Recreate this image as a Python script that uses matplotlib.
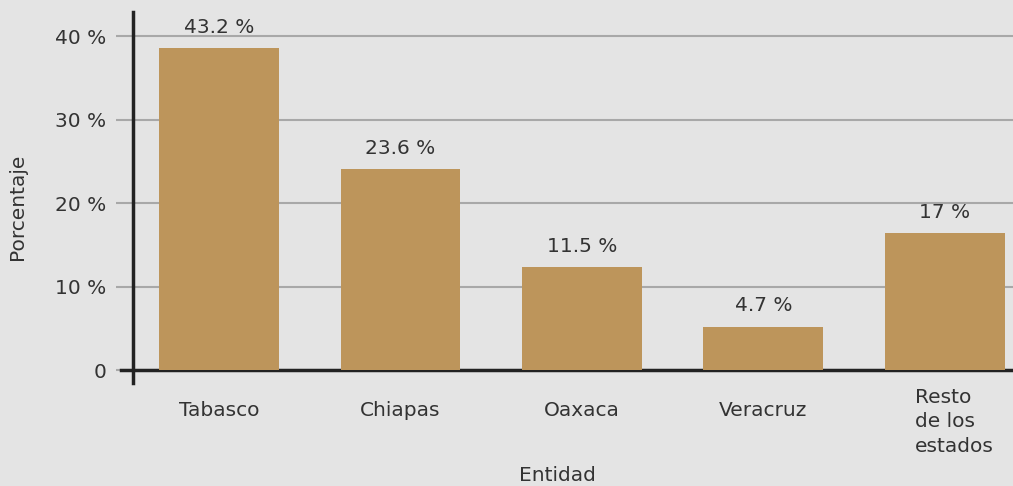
import matplotlib
matplotlib.use("Agg")
import matplotlib.pyplot as plt
import matplotlib.transforms as mtransforms

categories = ["Tabasco", "Chiapas", "Oaxaca", "Veracruz", "Resto\nde los\nestados"]
bar_values = [38.6, 24.1, 12.3, 5.2, 16.4]
value_labels = ["43.2 %", "23.6 %", "11.5 %", "4.7 %", "17 %"]
yticks = [0, 10, 20, 30, 40]
ytick_labels = ["0", "10 %", "20 %", "30 %", "40 %"]

BG = "#e4e4e4"
BAR = "#bd955b"
GRID = "#a8a8a8"
TXT = "#333333"
FONT = ["DejaVu Sans"]
plt.rcParams["font.family"] = FONT
FS = 14.5

fig = plt.figure(figsize=(10.13, 4.86), dpi=100, facecolor=BG)
ax = fig.add_axes([133 / 1013, 1 - 370 / 486, 1 - 133 / 1013, (370 - 12) / 486])
ax.set_facecolor(BG)

x = list(range(len(categories)))
ax.bar(x, bar_values, width=0.661, color=BAR, zorder=3)
ax.set_xlim(-0.474, 4.375)
ax.set_ylim(0, 42.9)

for s in ax.spines.values():
    s.set_visible(False)

ax.set_yticks(yticks)
ax.set_yticklabels(ytick_labels, fontsize=FS, color=TXT)
ax.tick_params(axis="y", length=12, width=1.5, color=GRID, pad=7)
ax.grid(axis="y", color=GRID, linewidth=1.5, zorder=1)
ax.set_xticks([])

# axes lines
ax.plot([0, 0], [-0.035, 1], transform=ax.transAxes, color="#222222", lw=2.5, clip_on=False, zorder=2)
ax.plot([-0.0136, 1], [0, 0], transform=ax.transAxes, color="#222222", lw=2.5, clip_on=False, zorder=2)

# value labels
for xi, v, lab in zip(x, bar_values, value_labels):
    ax.annotate(lab, (xi, v), xytext=(0, 8), textcoords="offset points",
                ha="center", va="bottom", fontsize=FS, color=TXT)

# category labels
trans = mtransforms.blended_transform_factory(ax.transData, fig.transFigure)
for xi, c in zip(x, categories):
    if "\n" in c:
        ax.text(xi - 0.165, 1 - 388 / 486, c, transform=trans, ha="left", va="top",
                fontsize=FS, color=TXT, linespacing=1.35)
    else:
        ax.text(xi, 1 - 410 / 486, c, transform=trans, ha="center", va="center",
                fontsize=FS, color=TXT)

fig.text(557 / 1013, 1 - 475 / 486, "Entidad", ha="center", va="center", fontsize=FS, color=TXT)
fig.text(18 / 1013, 1 - 207 / 486, "Porcentaje", ha="center", va="center", rotation=90,
         fontsize=FS, color=TXT)

fig.savefig("out.png", dpi=100, facecolor=BG)
